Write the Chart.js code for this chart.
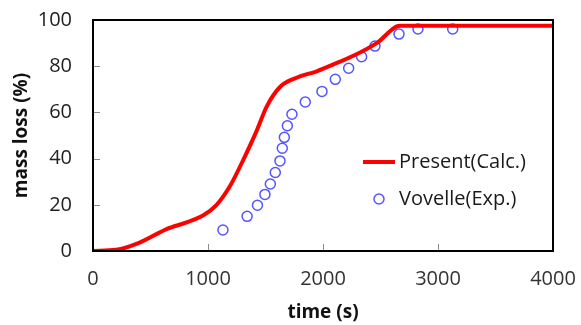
<!DOCTYPE html>
<html>
<head>
<meta charset="utf-8">
<script src="https://cdn.jsdelivr.net/npm/chart.js@4.4.0/dist/chart.umd.min.js"></script>
<style>
  html, body { margin: 0; padding: 0; background: #fff; }
  #wrap { width: 581px; height: 325px; }
</style>
</head>
<body>
<div id="wrap"><canvas id="massLoss" width="581" height="325"></canvas></div>
<script>
// calculated curve (time s, mass loss %)
var calcTime = [0, 200, 400, 640, 820, 960, 1075, 1190, 1307, 1423, 1510, 1626, 1770, 1945, 2148, 2264, 2467, 2670, 4000];
var calcLoss = [0, 0.5, 3.5, 9.5, 12.5, 15.5, 20, 28, 39.5, 52, 62.5, 71, 75, 77.8, 82, 84.5, 90, 97.5, 97.5];

// experimental points
var expTime = [1130, 1340, 1430, 1495, 1542, 1585, 1626, 1646, 1664, 1690, 1730, 1846, 1991, 2107, 2223, 2336, 2452, 2661, 2826, 3128];
var expLoss = [9.1, 15, 19.8, 24.5, 29, 34, 39, 44.5, 49.2, 54.2, 59.2, 64.5, 69.1, 74.3, 79.1, 84.1, 88.7, 93.9, 96.1, 96.1];

var xTicks = [0, 1000, 2000, 3000, 4000];
var yTicks = [0, 20, 40, 60, 80, 100];

var seriesNames = ['Present(Calc.)', 'Vovelle(Exp.)'];

var FONT = '"Open Sans", "DejaVu Sans", sans-serif';

function toXY(xs, ys) {
    return xs.map(function (t, i) { return { x: t, y: ys[i] }; });
}

// frame, inward tick marks and legend
var framePlugin = {
    id: 'frame',
    afterDraw: function (chart) {
        var ctx = chart.ctx;
        var a = chart.chartArea;
        var xs = chart.scales.x, ys = chart.scales.y;
        ctx.save();
        ctx.strokeStyle = '#8c8c8c';
        ctx.lineWidth = 1;
        yTicks.forEach(function (v) {
            if (v === yTicks[0] || v === yTicks[yTicks.length - 1]) return;
            var py = Math.round(ys.getPixelForValue(v)) + 0.5;
            ctx.beginPath(); ctx.moveTo(a.left, py); ctx.lineTo(a.left + 7, py); ctx.stroke();
        });
        xTicks.forEach(function (v) {
            if (v === xTicks[0] || v === xTicks[xTicks.length - 1]) return;
            var px = Math.round(xs.getPixelForValue(v)) + 0.5;
            ctx.beginPath(); ctx.moveTo(px, a.bottom); ctx.lineTo(px, a.bottom - 7); ctx.stroke();
        });
        ctx.strokeStyle = '#000';
        ctx.lineWidth = 2;
        ctx.strokeRect(a.left, a.top, a.right - a.left, a.bottom - a.top);

        // legend
        var lx = a.right - 190, ly1 = a.top + 142, ly2 = a.top + 179;
        var d0 = chart.data.datasets[0], d1 = chart.data.datasets[1];
        ctx.strokeStyle = d0.borderColor;
        ctx.lineWidth = d0.borderWidth;
        ctx.beginPath(); ctx.moveTo(lx, ly1); ctx.lineTo(lx + 32, ly1); ctx.stroke();
        ctx.strokeStyle = d1.borderColor;
        ctx.lineWidth = d1.borderWidth;
        ctx.beginPath(); ctx.arc(lx + 16, ly2, 5, 0, Math.PI * 2); ctx.stroke();
        ctx.fillStyle = '#1a1a1a';
        ctx.font = '20px ' + FONT;
        ctx.textBaseline = 'middle';
        ctx.fillText(d0.label, lx + 36, ly1);
        ctx.fillText(d1.label, lx + 36, ly2);
        ctx.restore();
    }
};

var ctx = document.getElementById('massLoss').getContext('2d');
var massChart = new Chart(ctx, {
    type: 'scatter',
    data: {
        datasets: [{
            label: seriesNames[0],
            type: 'line',
            data: toXY(calcTime, calcLoss),
            borderColor: '#ff0000',
            borderWidth: 4,
            pointRadius: 0,
            fill: false,
            cubicInterpolationMode: 'monotone'
        }, {
            label: seriesNames[1],
            data: toXY(expTime, expLoss),
            borderColor: '#5555ff',
            backgroundColor: 'rgba(0,0,0,0)',
            borderWidth: 1.5,
            pointRadius: 5
        }]
    },
    options: {
        responsive: false,
        animation: false,
        layout: { padding: { left: 0, right: 28, top: 20, bottom: 0 } },
        plugins: {
            legend: { display: false },
            tooltip: { enabled: false }
        },
        scales: {
            x: {
                type: 'linear',
                min: 0, max: 4000,
                afterBuildTicks: function (s) { s.ticks = xTicks.map(function (v) { return { value: v }; }); },
                afterFit: function (s) { s.height = 74; s.paddingLeft = 0; s.paddingRight = 0; },
                grid: { display: false, drawTicks: false },
                border: { display: false },
                ticks: {
                    color: '#333', padding: 16, font: { family: FONT, size: 20 },
                    callback: function (v) { return String(v); }
                },
                title: {
                    display: true, text: 'time (s)', color: '#111',
                    font: { family: FONT, size: 19, weight: 'bold' }, padding: { top: 0, bottom: 1 }
                }
            },
            y: {
                min: 0, max: 100,
                afterBuildTicks: function (s) { s.ticks = yTicks.map(function (v) { return { value: v }; }); },
                afterFit: function (s) { s.width = 93; s.paddingTop = 0; s.paddingBottom = 0; },
                grid: { display: false, drawTicks: false },
                border: { display: false },
                ticks: { color: '#222', padding: 21, font: { family: FONT, size: 20 } },
                title: {
                    display: true, text: 'mass loss (%)', color: '#111',
                    font: { family: FONT, size: 19, weight: 'bold' }, padding: { top: 10, bottom: 0 }
                }
            }
        }
    },
    plugins: [framePlugin]
});
</script>
</body>
</html>
